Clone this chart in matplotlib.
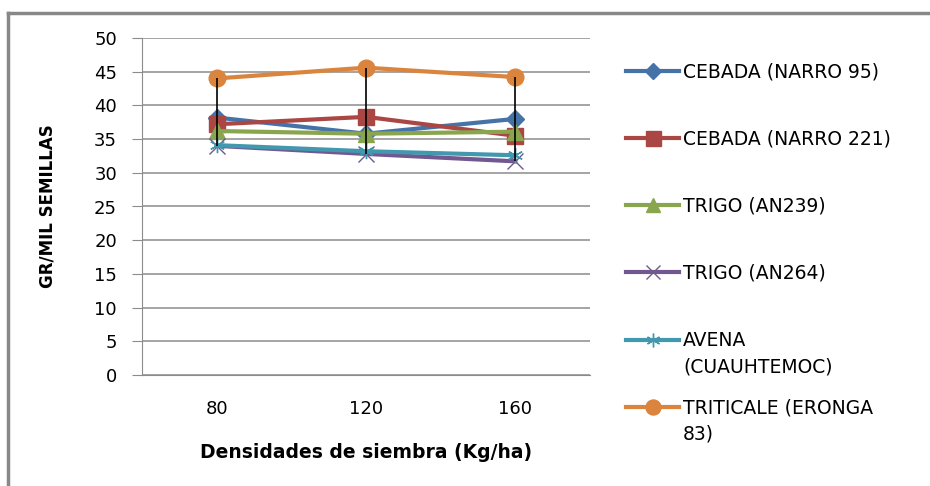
import matplotlib.pyplot as plt
from matplotlib.lines import Line2D

# Data
densidades = ['80', '120', '160']
narro_95 = [38.2, 35.8, 38.0]
narro_221 = [37.2, 38.3, 35.5]
trigo_an239 = [36.2, 35.8, 36.1]
trigo_an264 = [34.0, 32.8, 31.7]
avena = [34.1, 33.2, 32.6]
triticale = [44.0, 45.6, 44.2]

series = [
    ('CEBADA (NARRO 95)', narro_95, '#4572A7', 'D', 9),
    ('CEBADA (NARRO 221)', narro_221, '#AA4643', 's', 12),
    ('TRIGO (AN239)', trigo_an239, '#89A54E', '^', 11),
    ('TRIGO (AN264)', trigo_an264, '#71588F', 'x', 11),
    ('AVENA\n(CUAUHTEMOC)', avena, '#4198AF', (6, 2, 0), 11),
    ('TRITICALE (ERONGA\n83)', triticale, '#DB843D', 'o', 12),
]

W, H = 930, 486
fig = plt.figure(figsize=(W / 100, H / 100), dpi=100)
ax = fig.add_axes([142 / W, 1 - 375 / H, 448 / W, 337 / H])

x = list(range(len(densidades)))

# high-low lines
all_vals = [s[1] for s in series]
highs = [max(v[i] for v in all_vals) for i in x]
lows = [min(v[i] for v in all_vals) for i in x]
ax.vlines(x, lows, highs, color='black', lw=1.2, zorder=5)

for label, vals, color, marker, ms in series:
    ax.plot(x, vals, color=color, lw=3, marker=marker, markersize=ms,
            markeredgecolor=color, markeredgewidth=1, zorder=3)

ax.set_xlim(-0.5, 2.5)
ax.set_ylim(0, 50)
ax.set_yticks(range(0, 51, 5))
ax.set_xticks(x)
ax.set_xticklabels(densidades)
ax.yaxis.grid(True, color='#8c8c8c', lw=1.1)
ax.set_axisbelow(True)
for side in ('top', 'right'):
    ax.spines[side].set_visible(False)
ax.spines['left'].set_color('#8c8c8c')
ax.spines['bottom'].set_color('#8c8c8c')
ax.tick_params(axis='y', direction='out', length=7, color='#8c8c8c', labelsize=13, pad=11)
ax.tick_params(axis='x', length=0, labelsize=13, pad=18)

ax.set_ylabel('GR/MIL SEMILLAS', fontsize=12, fontweight='bold', labelpad=27)
ax.set_xlabel('Densidades de siembra (Kg/ha)', fontsize=13.5, fontweight='bold', labelpad=18)

# legend, drawn entry by entry so that the handle sits on the first text line
legend_y = [71, 138, 205, 272, 340, 407]
for (label, vals, color, marker, ms), py in zip(series, legend_y):
    fy = 1 - py / H
    fig.add_artist(Line2D([626 / W, 652.5 / W, 679 / W], [fy, fy, fy], color=color, lw=3,
                          marker=marker, markersize=ms * 0.9, markeredgecolor=color,
                          markevery=[1]))
    for k, line in enumerate(label.split('\n')):
        fig.text(683 / W, 1 - (py + 1 + 26 * k) / H, line, fontsize=13.5,
                 ha='left', va='center')

# outer chart frame (left and top edges visible)
fig.add_artist(Line2D([8 / W, 8 / W], [0, 1 - 13 / H], color='#888888', lw=2.5))
fig.add_artist(Line2D([8 / W, 1], [1 - 13 / H, 1 - 13 / H], color='#888888', lw=2.5))

fig.savefig('out.png', dpi=100)
